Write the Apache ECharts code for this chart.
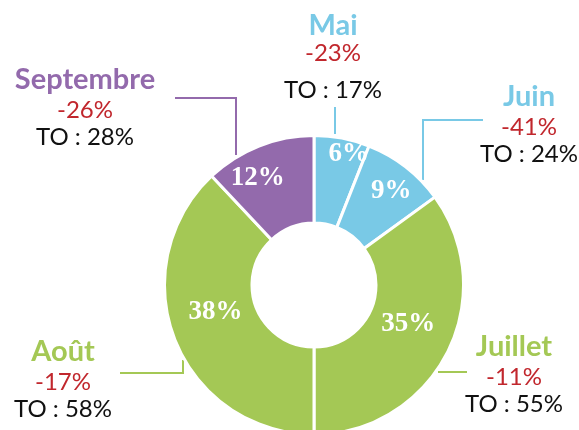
<!DOCTYPE html>
<html>
<head>
  <meta charset="utf-8">
  <title>Mois</title>
  <script src="https://cdn.jsdelivr.net/npm/echarts@6/dist/echarts.min.js"></script>
  <style>
    html, body { margin: 0; padding: 0; background: #fff; }
    #main { width: 579px; height: 430px; }
  </style>
</head>
<body>
  <div id="main"></div>
  <script>
  // donnees
  var mois = ['Mai', 'Juin', 'Juillet', 'Août', 'Septembre'];
  var parts = [6, 9, 35, 38, 12];
  var evolutions = ['-23%', '-41%', '-11%', '-17%', '-26%'];
  var tauxOccup = ['TO : 17%', 'TO : 24%', 'TO : 55%', 'TO : 58%', 'TO : 28%'];
  var couleurs = ['#79c9e6', '#79c9e6', '#a4c855', '#a4c855', '#936aac'];

  // mise en page (centre du donut, emplacement des etiquettes)
  var centre = [314, 285];
  var rayonEtiq = [135, 122, 102, 102, 121];
  var etiqPos = [[333, 12], [529, 80], [514, 330], [63, 335], [85, 63]];
  var traits = [
    [[335, 134], [335, 120], [335, 107]],
    [[423, 180], [423, 120], [483, 120]],
    [[438, 372], [452, 372], [467, 372]],
    [[183, 360], [183, 373], [120, 373]],
    [[236, 155], [236, 98], [175, 98]]
  ];

  var chart = echarts.init(document.getElementById('main'));

  var donnees = mois.map(function (m, i) {
    return { name: m, value: parts[i], itemStyle: { color: couleurs[i] } };
  });
  var donneesEtiq = mois.map(function (m, i) {
    return {
      name: m, value: parts[i],
      itemStyle: { color: 'rgba(0,0,0,0)' },
      labelLine: { lineStyle: { color: couleurs[i] } },
      label: { rich: { nom: { color: couleurs[i] } } }
    };
  });

  var option = {
    animation: false,
    series: [{
      type: 'pie',
      center: centre,
      radius: [62, 149.5],
      startAngle: 90,
      clockwise: true,
      avoidLabelOverlap: false,
      itemStyle: { borderColor: '#fff', borderWidth: 3 },
      label: {
        show: true,
        position: 'inside',
        formatter: '{c}%',
        color: '#fff',
        fontFamily: 'Liberation Serif',
        fontWeight: 'bold',
        fontSize: 27
      },
      labelLine: { show: false },
      labelLayout: function (p) {
        var cx = p.rect.x + p.rect.width / 2;
        var cy = p.rect.y + p.rect.height / 2;
        var dx = cx - centre[0], dy = cy - centre[1];
        var d = Math.sqrt(dx * dx + dy * dy);
        var r = rayonEtiq[p.dataIndex];
        return {
          x: centre[0] + dx / d * r,
          y: centre[1] + dy / d * r,
          align: 'center',
          verticalAlign: 'middle'
        };
      },
      data: donnees
    }, {
      type: 'pie',
      silent: true,
      center: centre,
      radius: [62, 149.5],
      startAngle: 90,
      clockwise: true,
      avoidLabelOverlap: false,
      label: {
        show: true,
        position: 'outside',
        fontFamily: 'Lato',
        formatter: function (p) {
          var i = p.dataIndex;
          if (i === 0) {
            return '{nomS|' + mois[i] + '}\n{evo|' + evolutions[i] + '}\n{toL|' + tauxOccup[i] + '}';
          }
          return '{nom|' + mois[i] + '}\n{evo|' + evolutions[i] + '}\n{to|' + tauxOccup[i] + '}';
        },
        rich: {
          nom: { fontFamily: 'Lato', fontWeight: 'bold', fontSize: 29, lineHeight: 34, align: 'center' },
          nomS: { fontFamily: 'Lato', fontWeight: 'bold', fontSize: 29, lineHeight: 28, color: '#79c9e6', align: 'center' },
          evo: { fontFamily: 'Lato', fontSize: 24, lineHeight: 27, color: '#c1272d', align: 'center' },
          to: { fontFamily: 'Lato', fontSize: 24, lineHeight: 27, color: '#111', align: 'center' },
          toL: { fontFamily: 'Lato', fontSize: 24, lineHeight: 47, color: '#111', align: 'center' }
        }
      },
      labelLine: { show: true, length: 10, length2: 10, lineStyle: { width: 2 } },
      labelLayout: function (p) {
        var i = p.dataIndex;
        return {
          x: etiqPos[i][0],
          y: etiqPos[i][1],
          align: 'center',
          verticalAlign: 'top',
          labelLinePoints: traits[i]
        };
      },
      data: donneesEtiq
    }]
  };

  chart.setOption(option);
  </script>
</body>
</html>
